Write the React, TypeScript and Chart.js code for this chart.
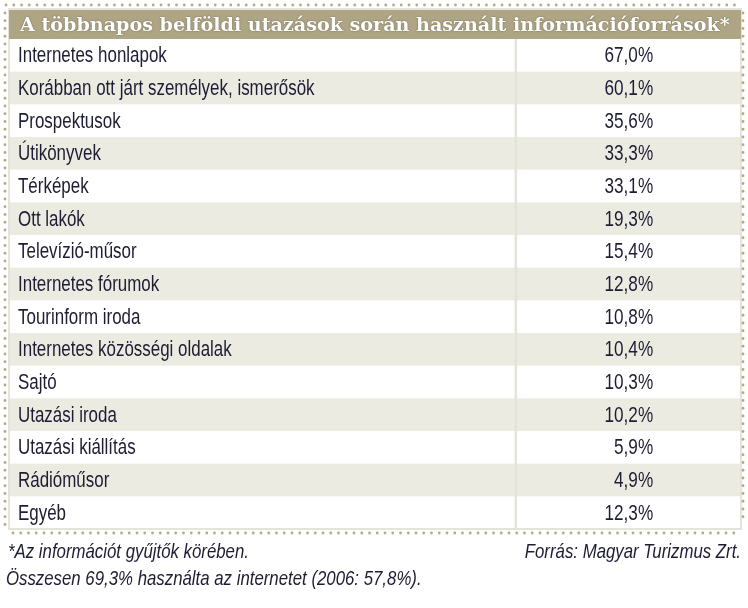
import React, { useEffect, useRef } from "react";
import { Chart, registerables } from "chart.js";
Chart.register(...registerables);

const title = "A többnapos belföldi utazások során használt információforrások*";
const categories = [
  "Internetes honlapok",
  "Korábban ott járt személyek, ismerősök",
  "Prospektusok",
  "Útikönyvek",
  "Térképek",
  "Ott lakók",
  "Televízió-műsor",
  "Internetes fórumok",
  "Tourinform iroda",
  "Internetes közösségi oldalak",
  "Sajtó",
  "Utazási iroda",
  "Utazási kiállítás",
  "Rádióműsor",
  "Egyéb",
];
const values = [67.0, 60.1, 35.6, 33.3, 33.1, 19.3, 15.4, 12.8, 10.8, 10.4, 10.3, 10.2, 5.9, 4.9, 12.3];
const footLeft = "*Az információt gyűjtők körében.";
const footRight = "Forrás: Magyar Turizmus Zrt.";
const footBottom = "Összesen 69,3% használta az internetet (2006: 57,8%).";

const fmt = (v: number) => v.toFixed(1).replace(".", ",") + "%";

const TAN = "#aea584";
const DOT = "#b3aa88";
const GRAY = "#ecebe2";
const LINE = "#e6e4da";
const TEXT = "#1d1d33";
const SANS = "'Liberation Sans', Arial, sans-serif";

function drawText(ctx: CanvasRenderingContext2D, text: string, x: number, y: number, align: "left" | "right", sx: number) {
  ctx.save();
  ctx.translate(x, y);
  ctx.scale(sx, 1);
  ctx.textAlign = align;
  ctx.fillText(text, 0, 0);
  ctx.restore();
}

const tablePlugin = {
  id: "tablePlugin",
  beforeDatasetsDraw(chart: any) {
    const { ctx, chartArea } = chart;
    const y = chart.scales.y;
    const band = (chartArea.bottom - chartArea.top) / categories.length;
    ctx.save();
    ctx.fillStyle = "#ffffff";
    ctx.fillRect(chartArea.left, chartArea.top, chartArea.right - chartArea.left, chartArea.bottom - chartArea.top);
    categories.forEach((_, i) => {
      const cy = y.getPixelForValue(i);
      if (i % 2 === 1) {
        ctx.fillStyle = GRAY;
        ctx.fillRect(chartArea.left, cy - band / 2, chartArea.right - chartArea.left, band);
      }
    });
    ctx.restore();
  },
  afterDraw(chart: any) {
    const { ctx, chartArea } = chart;
    const y = chart.scales.y;
    ctx.save();
    // column divider
    const divX = chartArea.left + (chartArea.right - chartArea.left) * 0.692;
    ctx.fillStyle = LINE;
    ctx.fillRect(divX - 1, chartArea.top, 2.5, chartArea.bottom - chartArea.top);
    // table border
    ctx.strokeStyle = LINE;
    ctx.lineWidth = 2;
    ctx.strokeRect(chartArea.left, chartArea.top - 30, chartArea.right - chartArea.left, chartArea.bottom - chartArea.top + 30);
    // title bar
    ctx.fillStyle = TAN;
    ctx.fillRect(chartArea.left, chartArea.top - 29, chartArea.right - chartArea.left, 29);
    ctx.font = "bold 18px 'DejaVu Serif', serif";
    const tw = ctx.measureText(title).width;
    const target = 710;
    const fs = 18 * target / tw;
    ctx.font = `bold ${fs.toFixed(2)}px 'DejaVu Serif', serif`;
    ctx.textBaseline = "alphabetic";
    ctx.textAlign = "left";
    ctx.shadowColor = "rgba(40,40,30,0.6)";
    ctx.shadowBlur = 1.5;
    ctx.fillStyle = "#ffffff";
    ctx.fillText(title, chartArea.left + 11, chartArea.top - 8);
    ctx.shadowColor = "transparent";
    ctx.shadowBlur = 0;
    // rows text
    ctx.fillStyle = TEXT;
    ctx.font = `22px ${SANS}`;
    ctx.textBaseline = "middle";
    const meta = chart.getDatasetMeta(0);
    categories.forEach((c, i) => {
      const cy = y.getPixelForValue(i) + 1;
      drawText(ctx, c, chartArea.left + 9, cy, "left", 0.77);
      const v = chart.data.datasets[0].data[i];
      const vy = meta.data[i] ? meta.data[i].y + 1 : cy;
      drawText(ctx, fmt(v), chartArea.left + (chartArea.right - chartArea.left) * 0.880, vy, "right", 0.78);
    });
    // dotted border
    ctx.fillStyle = DOT;
    const dot = (px: number, py: number) => {
      ctx.beginPath();
      ctx.arc(px, py, 1.4, 0, Math.PI * 2);
      ctx.fill();
    };
    const topY = 5, botY = 533, leftX = 5, rightX = 743;
    for (let px = 6; px <= 738; px += 7.75) dot(px, topY);
    for (let py = 13; py <= 528; py += 7.75) dot(leftX, py);
    for (let py = 13; py <= 524; py += 7.75) dot(rightX, py);
    for (let px = 13; px <= 736; px += 7.75) dot(px, botY);
    // footnotes
    ctx.fillStyle = TEXT;
    ctx.font = `italic 21px ${SANS}`;
    ctx.textBaseline = "middle";
    drawText(ctx, footLeft, 8, 552, "left", 0.8);
    drawText(ctx, footRight, 741, 552, "right", 0.8);
    drawText(ctx, footBottom, 6, 579, "left", 0.8);
    ctx.restore();
  },
};

export default function App() {
  const ref = useRef<HTMLCanvasElement>(null);
  useEffect(() => {
    document.body.style.margin = "0";
    const chart = new Chart(ref.current as HTMLCanvasElement, {
      type: "bar",
      data: {
        labels: categories,
        datasets: [
          {
            label: "Arány",
            data: values,
            backgroundColor: "rgba(0,0,0,0)",
            borderWidth: 0,
          },
        ],
      },
      options: {
        indexAxis: "y",
        responsive: false,
        animation: false,
        events: [],
        layout: { padding: { left: 9, right: 7, top: 39, bottom: 79 } },
        plugins: { legend: { display: false }, tooltip: { enabled: false }, title: { display: false } },
        scales: {
          x: { display: false, min: 0, max: 100 },
          y: { display: false },
        },
      },
      plugins: [tablePlugin],
    } as any);
    return () => chart.destroy();
  }, []);
  return (
    <div style={{ width: 748, height: 608 }}>
      <canvas ref={ref} width={748} height={608} />
    </div>
  );
}
